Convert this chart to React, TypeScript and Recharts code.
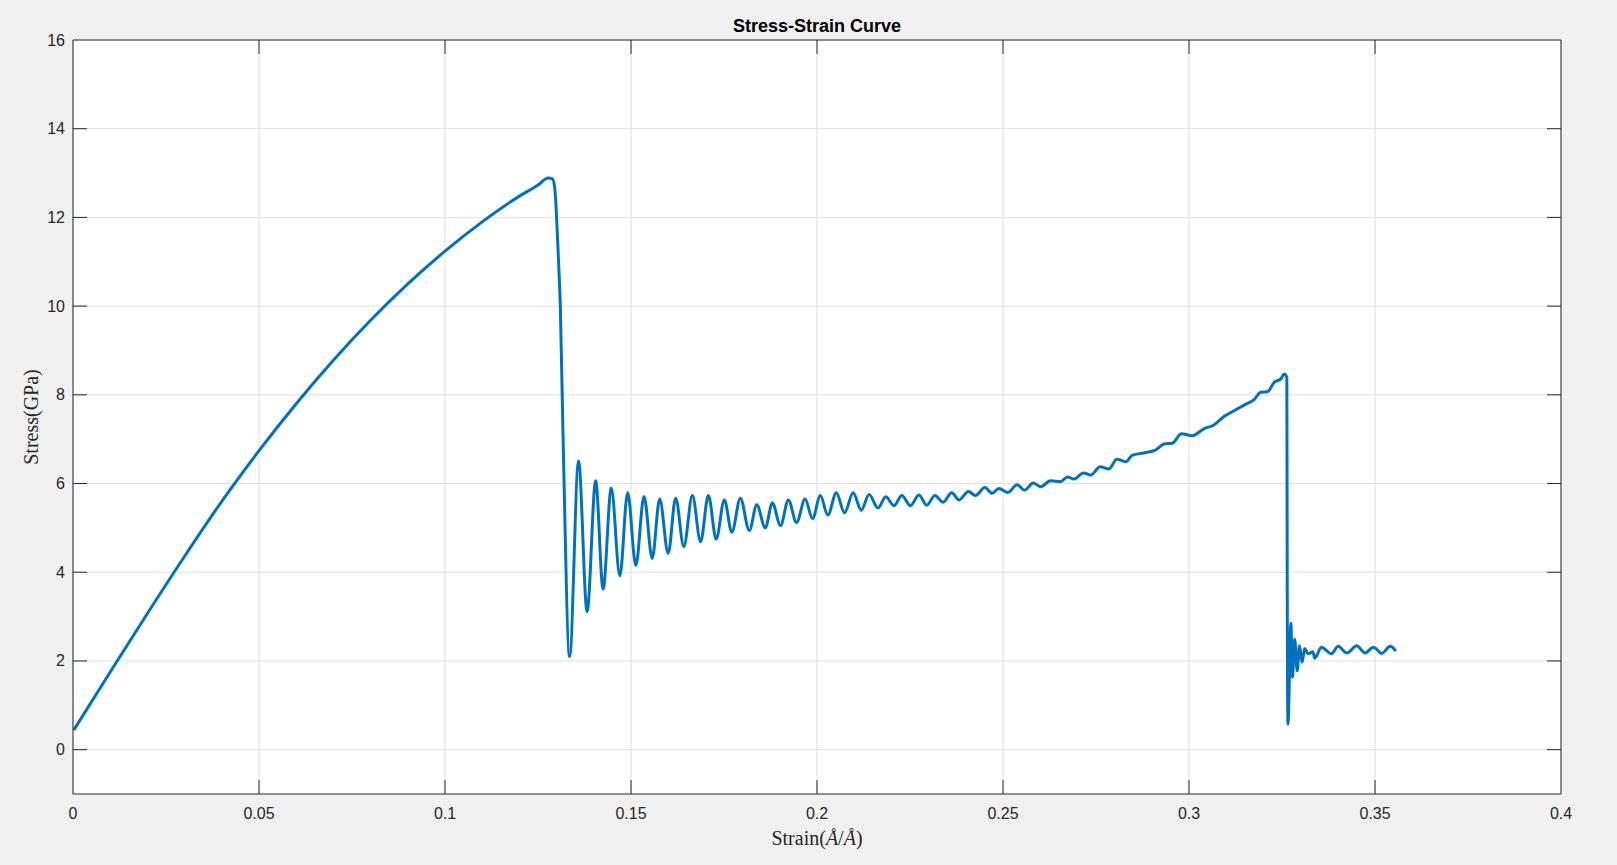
import * as React from 'react';
import { CartesianGrid, Line, LineChart, XAxis, YAxis } from 'recharts';

// strain (Å/Å) and stress (GPa)
const strain = [
  0.0002, 0.01, 0.02, 0.03, 0.04, 0.05, 0.06, 0.07, 0.08, 0.09,
  0.1, 0.11, 0.12, 0.125, 0.1277, 0.1289, 0.1295, 0.1299, 0.1305, 0.131, 0.1317, 0.1335,
  0.1359, 0.1382, 0.1405, 0.1425, 0.1447, 0.147, 0.1491, 0.1513, 0.1535, 0.1557,
  0.1577, 0.16, 0.162, 0.1642, 0.1665, 0.1687, 0.1708, 0.1729, 0.1751, 0.1771,
  0.1794, 0.1818, 0.1838, 0.1861, 0.188, 0.1902, 0.1923, 0.1945, 0.1968, 0.1988,
  0.2009, 0.2029, 0.2052, 0.2074, 0.2097, 0.2119, 0.214, 0.2164, 0.2185, 0.2207,
  0.2228, 0.2251, 0.2274, 0.2295, 0.2317, 0.2339, 0.2362, 0.2382, 0.2407, 0.2426,
  0.2451, 0.2471, 0.2489, 0.2513, 0.2538, 0.2558, 0.2581, 0.2601, 0.2628, 0.2655,
  0.2673, 0.2691, 0.2716, 0.2736, 0.2761, 0.2785, 0.2806, 0.283, 0.2848, 0.2879,
  0.2911, 0.2933, 0.2955, 0.298, 0.3009, 0.3041, 0.3067, 0.3094, 0.3121, 0.3153,
  0.3175, 0.3193, 0.3211, 0.3229, 0.3247, 0.3256, 0.3263, 0.3264, 0.3266,
  0.3274, 0.3278, 0.3284, 0.3291, 0.3297, 0.3304, 0.3311, 0.332, 0.3333, 0.3338,
  0.3356, 0.3383, 0.3401, 0.3424, 0.3451, 0.3473, 0.3496, 0.3518, 0.3541, 0.3556,
];
const stress = [
  0.44, 1.75, 3.07, 4.36, 5.6, 6.74, 7.8, 8.78, 9.68, 10.5,
  11.24, 11.9, 12.48, 12.73, 12.89, 12.87, 12.66, 12.17, 11.05, 9.99, 7.2, 2.1,
  6.51, 3.11, 6.06, 3.62, 5.9, 3.92, 5.8, 4.15, 5.71, 4.31,
  5.65, 4.43, 5.67, 4.58, 5.73, 4.69, 5.73, 4.75, 5.63, 4.9,
  5.67, 4.94, 5.52, 5.0, 5.56, 5.05, 5.63, 5.12, 5.65, 5.21,
  5.73, 5.29, 5.79, 5.34, 5.79, 5.4, 5.75, 5.45, 5.7, 5.5,
  5.73, 5.5, 5.74, 5.51, 5.73, 5.58, 5.79, 5.63, 5.82, 5.73,
  5.91, 5.78, 5.89, 5.8, 5.97, 5.85, 6.01, 5.93, 6.06, 6.04,
  6.15, 6.1, 6.24, 6.19, 6.38, 6.33, 6.55, 6.49, 6.64, 6.69,
  6.76, 6.89, 6.91, 7.12, 7.08, 7.24, 7.32, 7.51, 7.64, 7.79,
  7.89, 8.06, 8.07, 8.28, 8.36, 8.47, 8.39, 4.0, 0.58,
  2.85, 1.63, 2.49, 1.78, 2.34, 1.97, 2.28, 2.16, 2.21, 2.06,
  2.31, 2.16, 2.33, 2.18, 2.34, 2.18, 2.31, 2.17, 2.33, 2.22,
];

const xTicks = [0, 0.05, 0.1, 0.15, 0.2, 0.25, 0.3, 0.35, 0.4];
const yTicks = [0, 2, 4, 6, 8, 10, 12, 14, 16];

const W = 1617;
const H = 865;
const AXIS = '#262626';
const TICK_LEN = 14;
const SANS = '"Liberation Sans", Arial, Helvetica, sans-serif';
const SERIF = '"Liberation Serif", "Times New Roman", serif';

const rows = strain.map((s, i) => ({ strain: s, stress: stress[i] }));

// tick marks on the box edges would double the axis line, so skip them
const onXEdge = (v: number) => v === 0 || v === 0.4;
const onYEdge = (v: number) => v === 16;

function TickBottom({ x, y, payload }: any) {
  return (
    <g>
      {!onXEdge(payload.value) && <line x1={x} x2={x} y1={y} y2={y - TICK_LEN} stroke={AXIS} />}
      <text x={x} y={y + 19} textAnchor="middle" dominantBaseline="central" fontSize={16} fill={AXIS} fontFamily={SANS}>
        {payload.value}
      </text>
    </g>
  );
}

function TickTop({ x, y, payload }: any) {
  if (onXEdge(payload.value)) return <g />;
  return <line x1={x} x2={x} y1={y} y2={y + TICK_LEN} stroke={AXIS} />;
}

function TickLeft({ x, y, payload }: any) {
  return (
    <g>
      {!onYEdge(payload.value) && <line x1={x} x2={x + TICK_LEN} y1={y} y2={y} stroke={AXIS} />}
      <text x={x - 8} y={y} textAnchor="end" dominantBaseline="central" fontSize={16} fill={AXIS} fontFamily={SANS}>
        {payload.value}
      </text>
    </g>
  );
}

function TickRight({ x, y, payload }: any) {
  if (onYEdge(payload.value)) return <g />;
  return <line x1={x} x2={x - TICK_LEN} y1={y} y2={y} stroke={AXIS} />;
}

export default function App() {
  return (
    <div
      style={{
        position: 'fixed',
        left: 0,
        top: 0,
        width: W,
        height: H,
        background: '#f0f0f0',
        fontFamily: SANS,
        overflow: 'hidden',
      }}
    >
      <LineChart width={W} height={H} data={rows} margin={{ top: 0, right: 0, bottom: 0, left: 0 }}>
        <CartesianGrid
          fill="#ffffff"
          stroke="#dfdfdf"
          horizontalValues={yTicks}
          verticalValues={xTicks}
        />
        <XAxis
          dataKey="strain"
          type="number"
          domain={[0, 0.4]}
          ticks={xTicks}
          interval={0}
          height={71}
          tickSize={0}
          tickMargin={0}
          tickLine={false}
          axisLine={{ stroke: AXIS }}
          tick={<TickBottom />}
        />
        <XAxis
          xAxisId="top"
          orientation="top"
          dataKey="strain"
          type="number"
          domain={[0, 0.4]}
          ticks={xTicks}
          interval={0}
          height={40}
          tickSize={0}
          tickMargin={0}
          tickLine={false}
          axisLine={{ stroke: AXIS }}
          tick={<TickTop />}
        />
        <YAxis
          type="number"
          domain={[-1, 16]}
          ticks={yTicks}
          interval={0}
          width={73}
          tickSize={0}
          tickMargin={0}
          tickLine={false}
          axisLine={{ stroke: AXIS }}
          tick={<TickLeft />}
        />
        <YAxis
          yAxisId="right"
          orientation="right"
          type="number"
          domain={[-1, 16]}
          ticks={yTicks}
          interval={0}
          width={56}
          tickSize={0}
          tickMargin={0}
          tickLine={false}
          axisLine={{ stroke: AXIS }}
          tick={<TickRight />}
        />
        {/* invisible twin so the top and right box axes get a scale */}
        <Line
          xAxisId="top"
          yAxisId="right"
          dataKey="stress"
          stroke="none"
          dot={false}
          activeDot={false}
          isAnimationActive={false}
        />
        <Line
          type="monotone"
          dataKey="stress"
          stroke="#0072BD"
          strokeWidth={3}
          strokeLinejoin="round"
          dot={false}
          activeDot={false}
          isAnimationActive={false}
        />
      </LineChart>

      <div
        style={{
          position: 'absolute',
          left: 73,
          width: 1488,
          top: 15,
          lineHeight: '22px',
          fontSize: 18,
          fontWeight: 'bold',
          textAlign: 'center',
          color: '#000',
        }}
      >
        Stress-Strain Curve
      </div>
      <div
        style={{
          position: 'absolute',
          left: 73,
          width: 1488,
          top: 826,
          lineHeight: '24px',
          fontSize: 20,
          fontFamily: SERIF,
          textAlign: 'center',
          color: AXIS,
        }}
      >
        Strain(<i>Å</i>/<i>Å</i>)
      </div>
      <div
        style={{
          position: 'absolute',
          left: 31 - 100,
          width: 200,
          top: 417 - 12,
          height: 24,
          lineHeight: '24px',
          fontSize: 20,
          fontFamily: SERIF,
          textAlign: 'center',
          color: AXIS,
          transform: 'rotate(-90deg)',
        }}
      >
        Stress(GPa)
      </div>
    </div>
  );
}
